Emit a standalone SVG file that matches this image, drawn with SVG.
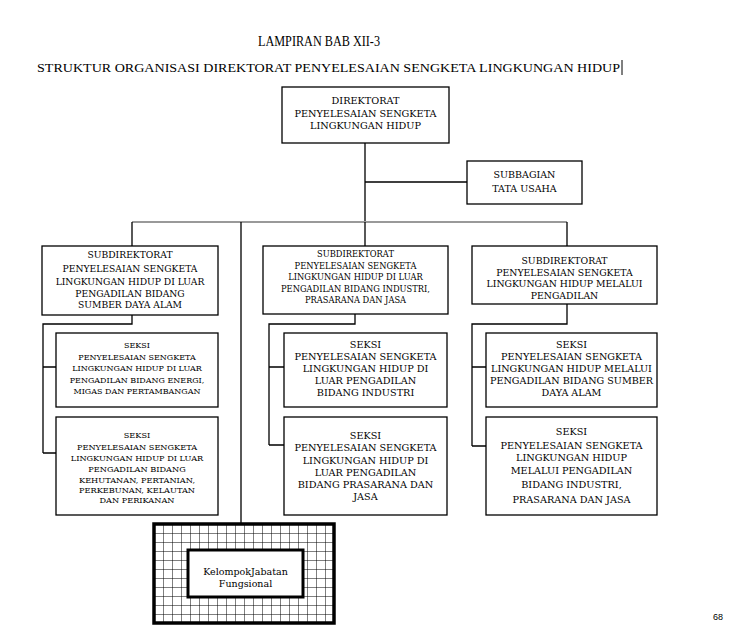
<svg xmlns="http://www.w3.org/2000/svg" width="744" height="636" viewBox="0 0 744 636">
<defs>
<style>
.b{fill:#fff;stroke:#000;stroke-width:1.3}
.t{font-family:"DejaVu Serif",serif;text-anchor:middle;fill:#000}
.c{fill:none;stroke:#000;stroke-width:1.3}
.g{fill:none;stroke:#999;stroke-width:2}
</style>
<pattern id="grid" patternUnits="userSpaceOnUse" x="154" y="524" width="9" height="9">
<rect width="9" height="9" fill="#fff"/>
<path d="M0 0H9M0 0V9" stroke="#000" stroke-width="1"/>
</pattern>
</defs>
<rect width="744" height="636" fill="#fff"/>
<text x="319" y="46" font-family="Liberation Serif,serif" font-size="14" text-anchor="middle" textLength="122" lengthAdjust="spacingAndGlyphs">LAMPIRAN BAB XII-3</text>
<text x="37" y="72" font-family="Liberation Serif,serif" font-size="13.5" textLength="583" lengthAdjust="spacingAndGlyphs">STRUKTUR ORGANISASI DIREKTORAT PENYELESAIAN SENGKETA LINGKUNGAN HIDUP</text>
<line x1="622" y1="60" x2="622" y2="75" stroke="#000" stroke-width="1"/>

<g id="connectors">
<path class="c" d="M365 143V222M365 182H467"/>
<path class="g" d="M132 222H567"/>
<path class="c" d="M132 222V246M365 222V246M567 222V246M241 222V524"/>
<path class="c" d="M132 315V324H43V453M43 367H56M43 453H56"/>
<path class="c" d="M355 314V324H269V445M269 367H284M269 445H284"/>
<path class="c" d="M567 304V324H472V446M472 367H486M472 446H486"/>
</g>

<g id="direktorat">
<rect class="b" x="282" y="87" width="167" height="56"/>
<text class="t" font-size="9.7"><tspan x="365.5" y="104">DIREKTORAT</tspan><tspan x="365.5" y="116.5">PENYELESAIAN SENGKETA</tspan><tspan x="365.5" y="129">LINGKUNGAN HIDUP</tspan></text>
</g>
<g id="subbagian">
<rect class="b" x="467" y="161" width="115" height="43"/>
<text class="t" font-size="9.5"><tspan x="524.5" y="178">SUBBAGIAN</tspan><tspan x="524.5" y="192">TATA USAHA</tspan></text>
</g>
<g id="subdit1">
<rect class="b" x="42" y="246" width="176" height="69"/>
<text class="t" font-size="9.2"><tspan x="130" y="258">SUBDIREKTORAT</tspan><tspan x="130" y="272">PENYELESAIAN SENGKETA</tspan><tspan x="130" y="284.5">LINGKUNGAN HIDUP DI LUAR</tspan><tspan x="130" y="296.5">PENGADILAN BIDANG</tspan><tspan x="130" y="308">SUMBER DAYA ALAM</tspan></text>
</g>
<g id="subdit2">
<rect class="b" x="263" y="246" width="185" height="68"/>
<text class="t" font-size="8.3"><tspan x="355.5" y="257">SUBDIREKTORAT</tspan><tspan x="355.5" y="268.5">PENYELESAIAN SENGKETA</tspan><tspan x="355.5" y="280">LINGKUNGAN HIDUP DI LUAR</tspan><tspan x="355.5" y="291.5">PENGADILAN BIDANG INDUSTRI,</tspan><tspan x="355.5" y="303">PRASARANA DAN JASA</tspan></text>
</g>
<g id="subdit3">
<rect class="b" x="472" y="246" width="185" height="58"/>
<text class="t" font-size="9.3"><tspan x="564.5" y="263.5">SUBDIREKTORAT</tspan><tspan x="564.5" y="275.5">PENYELESAIAN SENGKETA</tspan><tspan x="564.5" y="287">LINGKUNGAN HIDUP MELALUI</tspan><tspan x="564.5" y="299">PENGADILAN</tspan></text>
</g>
<g id="seksi1a">
<rect class="b" x="56" y="333" width="162" height="74"/>
<text class="t" font-size="8"><tspan x="137" y="348">SEKSI</tspan><tspan x="137" y="359.5">PENYELESAIAN SENGKETA</tspan><tspan x="137" y="371">LINGKUNGAN HIDUP DI LUAR</tspan><tspan x="137" y="382.5">PENGADILAN BIDANG ENERGI,</tspan><tspan x="137" y="393.5">MIGAS DAN PERTAMBANGAN</tspan></text>
</g>
<g id="seksi1b">
<rect class="b" x="56" y="417" width="162" height="98"/>
<text class="t" font-size="8.2"><tspan x="137" y="438">SEKSI</tspan><tspan x="137" y="449.5">PENYELESAIAN SENGKETA</tspan><tspan x="137" y="460.5">LINGKUNGAN HIDUP DI LUAR</tspan><tspan x="137" y="471.5">PENGADILAN BIDANG</tspan><tspan x="137" y="482.5">KEHUTANAN, PERTANIAN,</tspan><tspan x="137" y="493">PERKEBUNAN, KELAUTAN</tspan><tspan x="137" y="503">DAN PERIKANAN</tspan></text>
</g>
<g id="seksi2a">
<rect class="b" x="284" y="333" width="163" height="74"/>
<text class="t" font-size="9.7"><tspan x="365.5" y="347.5">SEKSI</tspan><tspan x="365.5" y="359.5">PENYELESAIAN SENGKETA</tspan><tspan x="365.5" y="372">LINGKUNGAN HIDUP DI</tspan><tspan x="365.5" y="384">LUAR PENGADILAN</tspan><tspan x="365.5" y="396">BIDANG INDUSTRI</tspan></text>
</g>
<g id="seksi2b">
<rect class="b" x="284" y="417" width="163" height="98"/>
<text class="t" font-size="9.7"><tspan x="365.5" y="438.5">SEKSI</tspan><tspan x="365.5" y="451">PENYELESAIAN SENGKETA</tspan><tspan x="365.5" y="463.5">LINGKUNGAN HIDUP DI</tspan><tspan x="365.5" y="476">LUAR PENGADILAN</tspan><tspan x="365.5" y="488">BIDANG PRASARANA DAN</tspan><tspan x="365.5" y="499.5">JASA</tspan></text>
</g>
<g id="seksi3a">
<rect class="b" x="486" y="333" width="171" height="74"/>
<text class="t" font-size="9.6"><tspan x="571.5" y="347.5">SEKSI</tspan><tspan x="571.5" y="359.5">PENYELESAIAN SENGKETA</tspan><tspan x="571.5" y="372">LINGKUNGAN HIDUP MELALUI</tspan><tspan x="571.5" y="384">PENGADILAN BIDANG SUMBER</tspan><tspan x="571.5" y="396">DAYA ALAM</tspan></text>
</g>
<g id="seksi3b">
<rect class="b" x="486" y="417" width="171" height="98"/>
<text class="t" font-size="9.7"><tspan x="571.5" y="435">SEKSI</tspan><tspan x="571.5" y="448.5">PENYELESAIAN SENGKETA</tspan><tspan x="571.5" y="461">LINGKUNGAN HIDUP</tspan><tspan x="571.5" y="474">MELALUI PENGADILAN</tspan><tspan x="571.5" y="487.5">BIDANG INDUSTRI,</tspan><tspan x="571.5" y="502.5">PRASARANA DAN JASA</tspan></text>
</g>
<g id="kelompok">
<rect x="154" y="524" width="180" height="99" fill="url(#grid)" stroke="#000" stroke-width="3.5"/>
<rect x="188" y="550" width="115" height="47" fill="#fff" stroke="#000" stroke-width="3"/>
<text class="t" font-size="9.5"><tspan x="245.5" y="575">KelompokJabatan</tspan><tspan x="245.5" y="587">Fungsional</tspan></text>
</g>
<text x="718" y="620" font-family="Liberation Sans,sans-serif" font-size="9" text-anchor="middle">68</text>
</svg>
